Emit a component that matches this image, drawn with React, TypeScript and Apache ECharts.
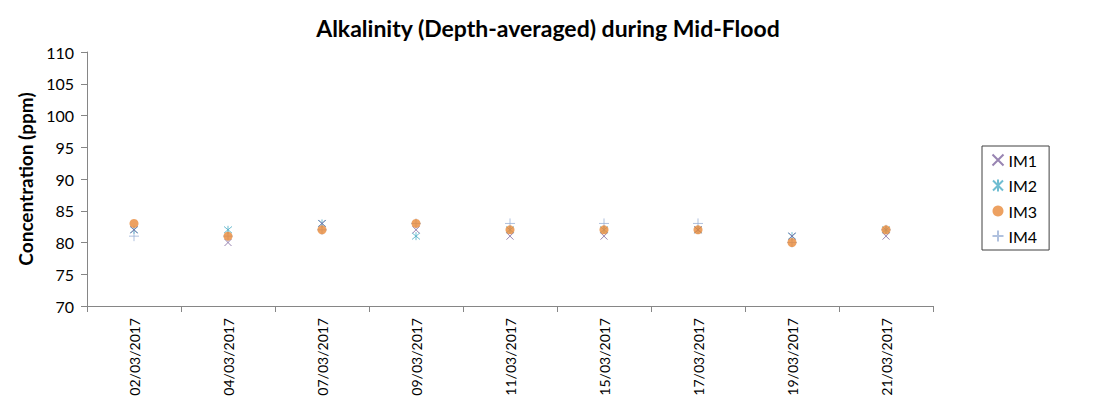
import React, { useEffect, useRef } from "react";
import * as echarts from "echarts";

const categories = [
  "02/03/2017", "04/03/2017", "07/03/2017", "09/03/2017", "11/03/2017",
  "15/03/2017", "17/03/2017", "19/03/2017", "21/03/2017",
];
const im1 = [82, 80, 83, 82, 81, 81, 82, 81, 81];
const im2 = [82, 82, 83, 81, 82, 82, 82, 81, 82];
const im3 = [83, 81, 82, 83, 82, 82, 82, 80, 82];
const im4 = [81, 81, 82, 83, 83, 83, 83, 80, 82];
const seriesNames = ["IM1", "IM2", "IM3", "IM4"];
const yTicks = { min: 70, max: 110, interval: 5 };

const FONT = "Lato";
const CROSS = "path://M0,0 L10,10 M10,0 L0,10";
const STAR = "path://M0,0 L10,10 M10,0 L0,10 M5,-1 L5,11";
const PLUS = "path://M5,0 L5,10 M0,5 L10,5";

export default function App() {
  const ref = useRef<HTMLDivElement>(null);
  useEffect(() => {
    const chart = echarts.init(ref.current!, null, { renderer: "svg" });
    const strokeStyle = (c: string) => ({ color: "none", borderColor: c, borderWidth: 1 });
    chart.setOption({
      animation: false,
      backgroundColor: "#fff",
      title: {
        text: "Alkalinity (Depth-averaged) during Mid-Flood",
        left: "center",
        top: 11,
        textStyle: { fontFamily: FONT, fontSize: 23, fontWeight: "bold", color: "#000" },
      },
      graphic: [
        {
          type: "rect",
          shape: { x: 2.5, y: 2.5, width: 1090, height: 410 },
          style: { fill: "none", stroke: "#d9d9d9", lineWidth: 1 },
          silent: true,
        },
      ],
      legend: {
        orient: "vertical",
        left: 982,
        top: 146,
        padding: [6, 12, 6, 8],
        itemGap: 9,
        itemWidth: 11,
        itemHeight: 12,
        borderColor: "#404040",
        borderWidth: 1,
        textStyle: { fontFamily: FONT, fontSize: 16, color: "#000", padding: [0, 0, 0, 0] },
        data: seriesNames,
      },
      grid: { left: 87, right: 163, top: 52, bottom: 101 },
      xAxis: {
        type: "category",
        data: categories,
        boundaryGap: true,
        axisLine: { lineStyle: { color: "#868686" } },
        axisTick: { show: true, length: 6, lineStyle: { color: "#868686" } },
        axisLabel: { rotate: 90, margin: 12, fontFamily: FONT, fontSize: 14, color: "#000" },
        splitLine: { show: false },
      },
      yAxis: {
        type: "value",
        min: yTicks.min,
        max: yTicks.max,
        interval: yTicks.interval,
        name: "Concentration (ppm)",
        nameLocation: "middle",
        nameGap: 43,
        nameTextStyle: { fontFamily: FONT, fontSize: 19, fontWeight: "bold", color: "#000" },
        axisLine: { show: true, lineStyle: { color: "#868686" } },
        axisTick: { show: true, length: 6, lineStyle: { color: "#868686" } },
        axisLabel: { margin: 13, fontFamily: FONT, fontSize: 16, color: "#000" },
        splitLine: { show: false },
      },
      series: [
        { name: "IM1", type: "scatter", data: im1, symbol: CROSS, symbolSize: 7, itemStyle: strokeStyle("#7E659F"), z: 4 },
        { name: "IM2", type: "scatter", data: im2, symbol: STAR, symbolSize: 8, itemStyle: strokeStyle("#4BACC6"), z: 3 },
        { name: "IM3", type: "scatter", data: im3, symbol: "circle", symbolSize: 9, itemStyle: { color: "#E8893A" }, z: 5 },
        { name: "IM4", type: "scatter", data: im4, symbol: PLUS, symbolSize: 10, itemStyle: strokeStyle("#9CB2D6"), z: 2 },
      ],
    });
    return () => chart.dispose();
  }, []);
  return <div ref={ref} style={{ width: 1096, height: 407, margin: -8 }} />;
}
